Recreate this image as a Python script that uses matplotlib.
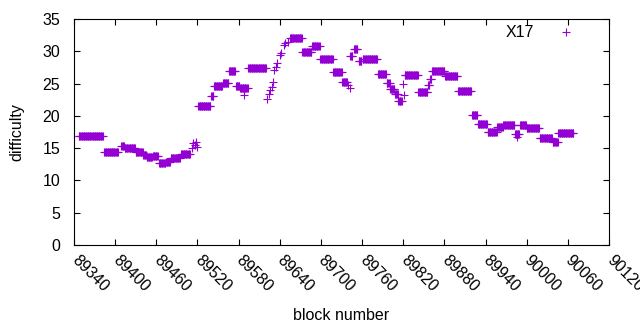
import numpy as np
import matplotlib
matplotlib.use("Agg")
import matplotlib.pyplot as plt

plt.rcParams['font.family'] = ['Liberation Sans', 'DejaVu Sans']

# runs of constant difficulty: first block, last block, difficulty
run_start = [89347, 89384, 89409, 89414, 89430, 89441, 89446, 89455, 89464, 89474,
             89481, 89496, 89521, 89540, 89544, 89557, 89566, 89576, 89582, 89594,
             89655, 89673, 89687, 89699, 89718, 89731, 89743, 89748, 89755, 89761,
             89783, 89796, 89801, 89808, 89813, 89822, 89842, 89856, 89859, 89862,
             89881, 89900, 89920, 89929, 89943, 89957, 89966, 89983, 89990, 90000,
             90019, 90038, 90046]
run_end = [89382, 89404, 89413, 89429, 89440, 89445, 89454, 89462, 89473, 89480,
           89494, 89509, 89539, 89543, 89556, 89565, 89575, 89581, 89593, 89620,
           89672, 89686, 89698, 89717, 89730, 89738, 89746, 89753, 89759, 89782,
           89795, 89800, 89807, 89812, 89818, 89841, 89855, 89858, 89861, 89880,
           89899, 89919, 89928, 89942, 89956, 89965, 89982, 89989, 89999, 90018,
           90037, 90045, 90068]
run_diff = [16.9, 14.4, 15.3, 15.0, 14.4, 13.9, 13.6, 13.8, 12.7, 12.9,
            13.5, 14.1, 21.5, 23.1, 24.6, 25.1, 27.0, 24.6, 24.3, 27.4,
            32.0, 29.9, 30.8, 28.8, 26.8, 25.2, 29.3, 30.4, 28.5, 28.8,
            26.5, 25.1, 24.2, 23.4, 22.3, 26.3, 23.7, 24.8, 25.7, 27.0,
            26.2, 23.8, 20.1, 18.8, 17.5, 18.3, 18.6, 17.2, 18.6, 18.1,
            16.6, 16.0, 17.3]

# scattered single blocks
pt_block = [89512, 89514, 89516, 89518, 89519, 89588, 89622, 89624, 89626, 89628,
            89630, 89632, 89634, 89636, 89640, 89642, 89646, 89648, 89652, 89740,
            89742, 89820, 89821, 89986]
pt_diff = [15.0, 15.8, 15.5, 16.0, 15.2, 23.2, 22.6, 23.4, 24.0, 24.5,
           25.2, 27.1, 27.6, 28.2, 29.4, 29.8, 31.0, 31.3, 31.5, 24.8,
           24.3, 25.0, 23.2, 16.7]

blocks = []
diffs = []
for s, e, d in zip(run_start, run_end, run_diff):
    for b in range(s, e + 1):
        blocks.append(b)
        diffs.append(d)
blocks += pt_block
diffs += pt_diff

fig = plt.figure(figsize=(6.4, 3.3), dpi=100)
ax = fig.add_axes([0.1156, 0.2576, 0.836, 0.6848])
ax.plot(blocks, diffs, '+', color='#9400D3', markersize=6, mew=0.8, label='X17')

ax.set_xlim(89340, 90120)
ax.set_ylim(0, 35)
ax.set_xticks(np.arange(89340, 90121, 60))
ax.set_yticks(np.arange(0, 36, 5))
ax.tick_params(direction='in', top=True, right=True, length=4, labelsize=11.5)
ax.tick_params(axis='x', pad=9)
ax.tick_params(axis='y', pad=10)
for lab in ax.get_xticklabels():
    lab.set_rotation(-45)
    lab.set_ha('left')
    lab.set_va('center')
    lab.set_rotation_mode('anchor')
ax.set_xlabel('block number', fontsize=11.5, va='center')
ax.xaxis.set_label_coords(0.5, -0.31)
ax.set_ylabel('difficulty', fontsize=11.5, va='center')
ax.yaxis.set_label_coords(-0.1065, 0.5)
ax.legend(loc='upper right', markerfirst=False, frameon=False, fontsize=11.5,
          handletextpad=1.0, borderaxespad=0.3, bbox_to_anchor=(0.970, 1.022))

fig.savefig('out.png', dpi=100)
